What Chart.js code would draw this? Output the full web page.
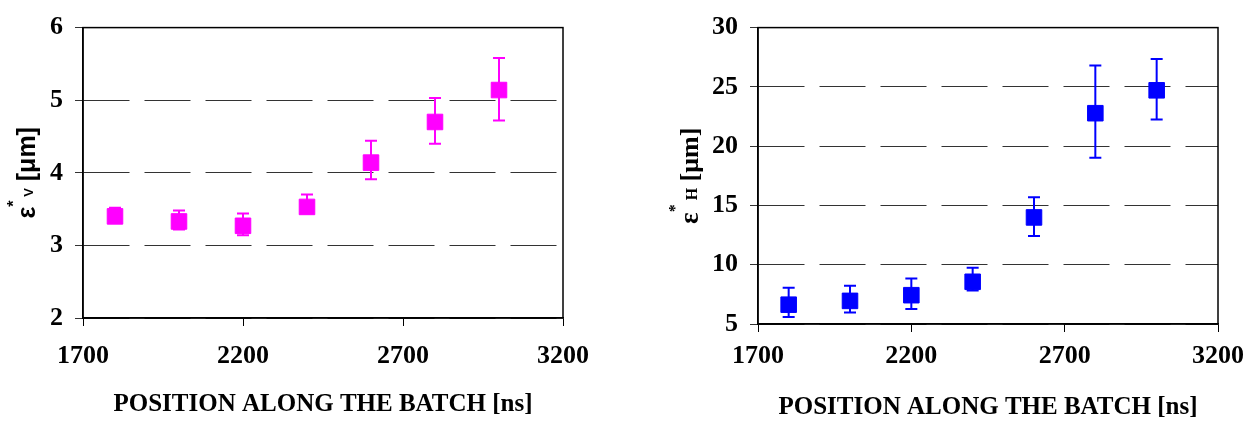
<!DOCTYPE html>
<html>
<head>
<meta charset="utf-8">
<script src="https://cdn.jsdelivr.net/npm/chart.js@4.4.1/dist/chart.umd.min.js"></script>
<style>
  html, body { margin: 0; padding: 0; background: #fff; }
  #wrap { position: relative; width: 1253px; height: 426px; }
  #leftBox { position: absolute; left: 0; top: 0; width: 626px; height: 426px; }
  #rightBox { position: absolute; left: 626px; top: 0; width: 627px; height: 426px; }
</style>
</head>
<body>
<div id="wrap">
  <div id="leftBox"><canvas id="chartV" width="626" height="426"></canvas></div>
  <div id="rightBox"><canvas id="chartH" width="627" height="426"></canvas></div>
</div>
<script>
// positions along the batch [ns]
const xPos = [1800, 2000, 2200, 2400, 2600, 2800, 3000];
const xTicks = [1700, 2200, 2700, 3200];

// vertical emittance [um] with error bar ends
const epsV = [3.40, 3.33, 3.27, 3.53, 4.14, 4.70, 5.14];
const epsVLow = [3.32, 3.22, 3.14, 3.45, 3.91, 4.40, 4.72];
const epsVHigh = [3.52, 3.48, 3.44, 3.70, 4.44, 5.03, 5.58];
const yTicksV = [2, 3, 4, 5, 6];

// horizontal emittance [um] with error bar ends
const epsH = [6.63, 6.95, 7.43, 8.56, 13.99, 22.78, 24.71];
const epsHLow = [5.59, 5.97, 6.27, 7.82, 12.43, 19.03, 22.24];
const epsHHigh = [8.06, 8.22, 8.84, 9.75, 15.70, 26.81, 27.35];
const yTicksH = [5, 10, 15, 20, 25, 30];

const SERIF = "'Liberation Serif', 'Times New Roman', serif";
const SANS = "'Liberation Sans', Arial, sans-serif";

// error bars drawn from the scales
const errorBars = {
  id: 'errorBars',
  beforeDatasetsDraw(chart, args, opts) {
    const ctx = chart.ctx;
    const xs = chart.scales.x, ys = chart.scales.y;
    ctx.save();
    ctx.strokeStyle = opts.color;
    ctx.lineWidth = 2;
    opts.x.forEach((xv, i) => {
      const px = xs.getPixelForValue(xv);
      const lo = ys.getPixelForValue(opts.low[i]);
      const hi = ys.getPixelForValue(opts.high[i]);
      ctx.beginPath();
      ctx.moveTo(px, lo); ctx.lineTo(px, hi);
      ctx.moveTo(px - 6, lo); ctx.lineTo(px + 6, lo);
      ctx.moveTo(px - 6, hi); ctx.lineTo(px + 6, hi);
      ctx.stroke();
    });
    ctx.restore();
  }
};

// frame round the plot area + rotated y title with sub/superscripts
const frameAndTitle = {
  id: 'frameAndTitle',
  afterDraw(chart, args, opts) {
    const ctx = chart.ctx;
    const a = chart.chartArea;
    ctx.save();
    ctx.setLineDash([]);
    ctx.strokeStyle = '#000';
    ctx.lineWidth = 1.5;
    ctx.strokeRect(a.left, a.top, a.right - a.left, a.bottom - a.top);

    const parts = opts.parts;
    let total = 0;
    parts.forEach(p => {
      ctx.font = 'bold ' + p.size + 'px ' + opts.family;
      p.w = ctx.measureText(p.t).width;
      total += p.w;
    });
    const cy = (a.top + a.bottom) / 2;
    ctx.translate(opts.x, cy);
    ctx.rotate(-Math.PI / 2);
    ctx.fillStyle = '#000';
    ctx.textBaseline = 'alphabetic';
    ctx.textAlign = 'left';
    let cx = -total / 2;
    parts.forEach(p => {
      ctx.font = 'bold ' + p.size + 'px ' + opts.family;
      ctx.fillText(p.t, cx, p.dy);
      cx += p.w;
    });
    ctx.restore();
  }
};

function makeChart(id, color, yVals, lo, hi, yTicks, yTitle, box) {
  const points = xPos.map((x, i) => ({ x: x, y: yVals[i] }));
  return new Chart(document.getElementById(id), {
    type: 'scatter',
    data: {
      datasets: [{
        data: points,
        pointStyle: 'rect',
        pointRadius: 11,
        pointHoverRadius: 11,
        backgroundColor: color,
        borderColor: color,
        borderWidth: 1
      }]
    },
    options: {
      responsive: false,
      animation: false,
      devicePixelRatio: 1,
      layout: { padding: { left: 0, top: box.top, right: box.right, bottom: 0 } },
      plugins: {
        legend: { display: false },
        tooltip: { enabled: false },
        errorBars: { x: xPos, low: lo, high: hi, color: color },
        frameAndTitle: yTitle
      },
      scales: {
        x: {
          type: 'linear',
          min: xTicks[0],
          max: xTicks[xTicks.length - 1],
          afterBuildTicks: s => { s.ticks = xTicks.map(v => ({ value: v })); },
          afterFit: s => { s.height = box.xHeight; },
          grid: { drawOnChartArea: false, drawTicks: true, tickLength: 8, color: '#000', lineWidth: 1 },
          border: { color: '#000', width: 1.5 },
          ticks: {
            color: '#000',
            padding: box.xPad,
            maxRotation: 0,
            callback: v => String(v),
            font: { family: SERIF, size: 26, weight: 'bold' }
          },
          title: {
            display: true,
            text: 'POSITION ALONG THE BATCH [ns]',
            color: '#000',
            padding: { top: 0, bottom: box.titlePad },
            font: { family: SERIF, size: 25, weight: 'bold' }
          }
        },
        y: {
          min: yTicks[0],
          max: yTicks[yTicks.length - 1],
          afterBuildTicks: s => { s.ticks = yTicks.map(v => ({ value: v })); },
          afterFit: s => { s.width = box.yWidth; },
          grid: {
            drawTicks: true,
            tickLength: 8,
            color: '#333',
            lineWidth: 1,
            tickBorderDash: []
          },
          border: { color: '#000', width: 1.5, dash: [46, 15] },
          ticks: {
            color: '#000',
            padding: 12,
            callback: v => String(v),
            font: { family: SERIF, size: 26, weight: 'bold' }
          }
        }
      }
    },
    plugins: [errorBars, frameAndTitle]
  });
}

makeChart('chartV', '#ff00ff', epsV, epsVLow, epsVHigh, yTicksV, {
  family: SANS, x: 35,
  parts: [
    { t: '\u03b5', size: 25, dy: 0 },
    { t: '*', size: 16, dy: -16 },
    { t: ' V', size: 13, dy: -2 },
    { t: ' [\u03bcm]', size: 25, dy: 0 }
  ]
}, { top: 15, right: 63, yWidth: 83, xHeight: 108, xPad: 15, titlePad: 6 });

makeChart('chartH', '#0000ff', epsH, epsHLow, epsHHigh, yTicksH, {
  family: SERIF, x: 72,
  parts: [
    { t: '\u03b5', size: 27, dy: 0 },
    { t: '*', size: 16, dy: -18 },
    { t: ' H', size: 16, dy: -1 },
    { t: ' [\u03bcm]', size: 26, dy: 0 }
  ]
}, { top: 13, right: 32, yWidth: 132, xHeight: 102, xPad: 9, titlePad: 3 });
</script>
</body>
</html>
